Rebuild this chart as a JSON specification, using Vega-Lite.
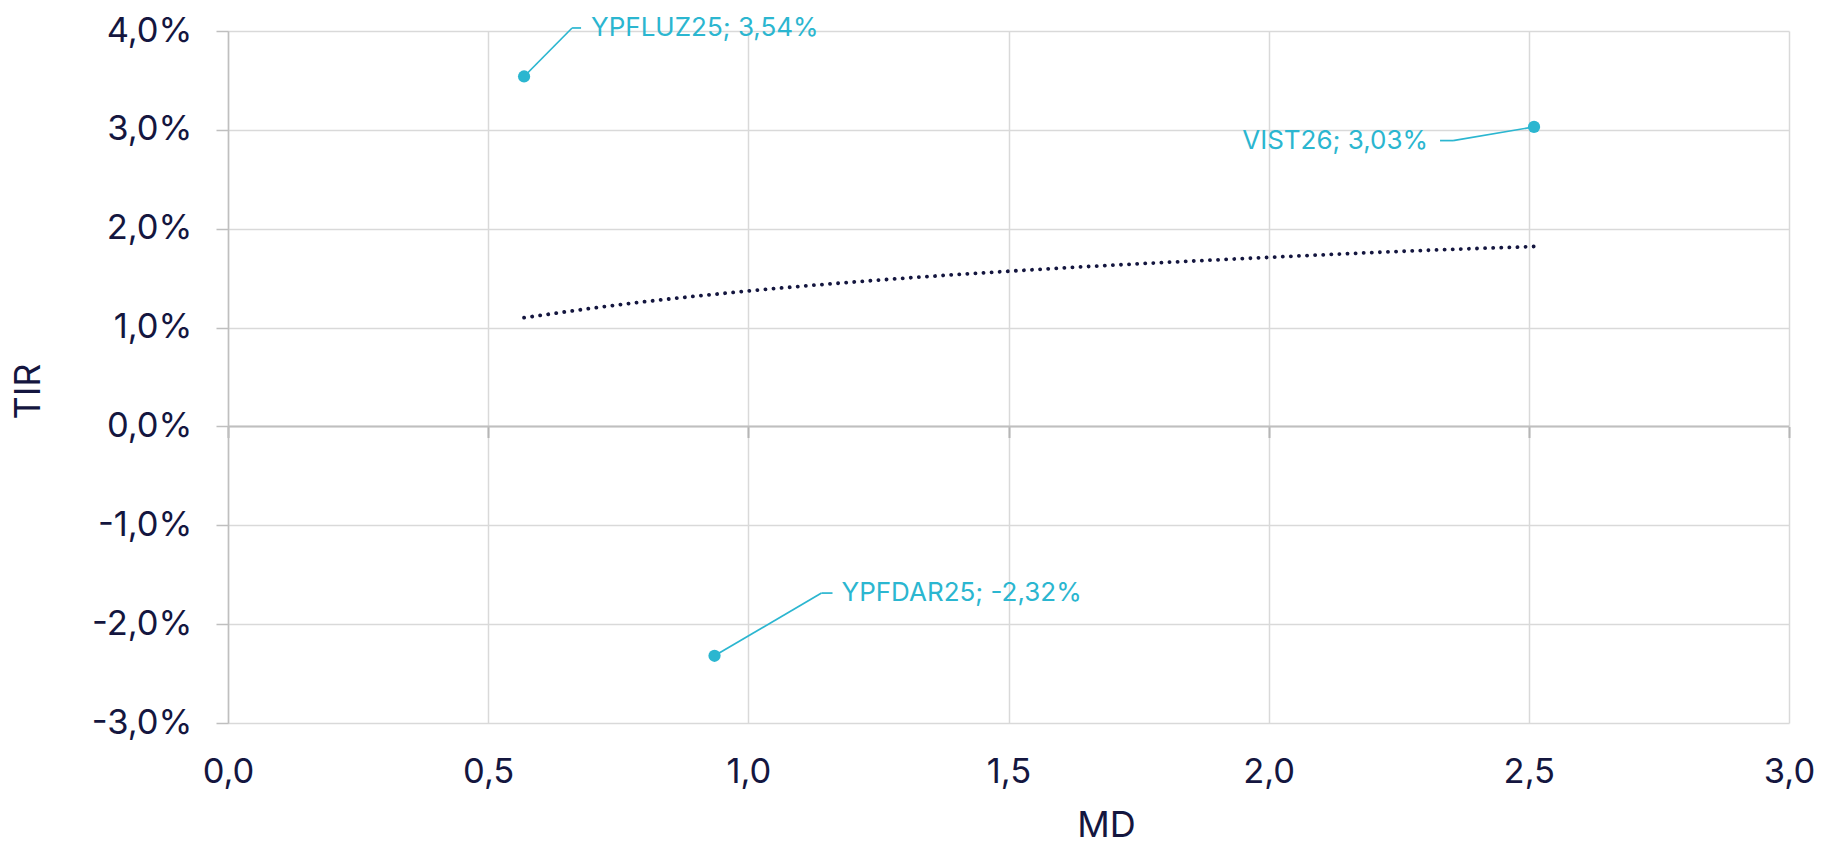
{
  "$schema": "https://vega.github.io/schema/vega-lite/v6.json",
  "width": 1561,
  "height": 692,
  "autosize": {"type": "none"},
  "padding": {"left": 228, "top": 31, "right": 32, "bottom": 121},
  "background": "white",
  "config": {
    "view": {"stroke": null},
    "font": "Inter",
    "axis": {
      "labelFont": "Inter",
      "titleFont": "Inter",
      "labelColor": "#14163f",
      "titleColor": "#14163f",
      "labelFontSize": 34.5,
      "titleFontSize": 36,
      "titleFontWeight": "normal",
      "gridColor": "#d9d9d9",
      "gridWidth": 1.5,
      "domainColor": "#bfbfbf",
      "tickColor": "#bfbfbf",
      "labelFlush": false,
      "labelOverlap": false
    }
  },
  "datasets": {
    "bonos": [
      {"bono": "YPFLUZ25", "md": 0.569, "tir": 0.0354, "etiqueta": "YPFLUZ25; 3,54%"},
      {"bono": "YPFDAR25", "md": 0.935, "tir": -0.0232, "etiqueta": "YPFDAR25; -2,32%"},
      {"bono": "VIST26", "md": 2.51, "tir": 0.0303, "etiqueta": "VIST26; 3,03%"}
    ],
    "tendencia": [
      {"md": 0.569, "tir": 0.0110},
      {"md": 0.75, "tir": 0.0123},
      {"md": 1.0, "tir": 0.0137},
      {"md": 1.25, "tir": 0.0148},
      {"md": 1.5, "tir": 0.0157},
      {"md": 1.75, "tir": 0.01645},
      {"md": 2.0, "tir": 0.0171},
      {"md": 2.25, "tir": 0.0177},
      {"md": 2.51, "tir": 0.0182}
    ],
    "ejeCero": [{"tir": 0}]
  },
  "resolve": {"axis": {"x": "independent"}},
  "layer": [
    {
      "data": {"name": "tendencia"},
      "mark": {"type": "line", "opacity": 0},
      "encoding": {
        "x": {
          "field": "md", "type": "quantitative",
          "scale": {"domain": [0, 3], "nice": false, "zero": false},
          "axis": {
            "orient": "bottom",
            "title": "MD",
            "values": [0, 0.5, 1, 1.5, 2, 2.5, 3],
            "labelExpr": "replace(format(datum.value, '.1f'), '.', ',')",
            "labelFlush": false,
            "domain": false,
            "ticks": false,
            "grid": true,
            "labelPadding": 32,
            "labelBaseline": "top",
            "titleX": 878,
            "titleY": 113,
            "titleAlign": "center",
            "titleBaseline": "alphabetic"
          }
        },
        "y": {
          "field": "tir", "type": "quantitative",
          "scale": {"domain": [-0.03, 0.04], "nice": false, "zero": false},
          "axis": {
            "title": "TIR",
            "values": [-0.03, -0.02, -0.01, 0, 0.01, 0.02, 0.03, 0.04],
            "labelExpr": "replace(replace(format(datum.value, '.1%'), '.', ','), '\u2212', '-')",
            "labelFlush": false,
            "domain": true,
            "domainWidth": 1.5,
            "ticks": true,
            "tickSize": 12,
            "tickWidth": 1.5,
            "grid": true,
            "labelPadding": 24,
            "titleX": -200,
            "titleY": 360,
            "titleAngle": -90,
            "titleAlign": "center",
            "titleBaseline": "middle"
          }
        }
      }
    },
    {
      "data": {"name": "ejeCero"},
      "mark": {"type": "rule", "color": "#bfbfbf", "strokeWidth": 2},
      "encoding": {"y": {"field": "tir", "type": "quantitative"}}
    },
    {
      "data": {"name": "tendencia"},
      "mark": {"type": "line", "color": "#14163f", "strokeWidth": 3.8, "strokeCap": "round", "strokeDash": [0.1, 8], "interpolate": "monotone"},
      "encoding": {
        "x": {"field": "md", "type": "quantitative", "axis": null},
        "y": {"field": "tir", "type": "quantitative"}
      }
    },
    {
      "data": {"name": "bonos"},
      "transform": [{"filter": "datum.bono === 'YPFLUZ25'"}],
      "layer": [
        {
          "mark": {"type": "rule", "color": "#2bb6d0", "strokeWidth": 1.7, "x2Offset": 48, "y2Offset": -48.5},
          "encoding": {
            "x": {"field": "md", "type": "quantitative", "axis": null},
            "y": {"field": "tir", "type": "quantitative"},
            "x2": {"field": "md"},
            "y2": {"field": "tir"}
          }
        },
        {
          "mark": {"type": "rule", "color": "#2bb6d0", "strokeWidth": 1.7, "xOffset": 48, "x2Offset": 57, "yOffset": -48.5},
          "encoding": {
            "x": {"field": "md", "type": "quantitative", "axis": null},
            "x2": {"field": "md"},
            "y": {"field": "tir", "type": "quantitative"}
          }
        },
        {
          "mark": {"type": "text", "color": "#2bb6d0", "fontSize": 26, "font": "Inter", "align": "left", "baseline": "middle", "dx": 67, "dy": -48.5},
          "encoding": {
            "x": {"field": "md", "type": "quantitative", "axis": null},
            "y": {"field": "tir", "type": "quantitative"},
            "text": {"field": "etiqueta"}
          }
        }
      ]
    },
    {
      "data": {"name": "bonos"},
      "transform": [{"filter": "datum.bono === 'YPFDAR25'"}],
      "layer": [
        {
          "mark": {"type": "rule", "color": "#2bb6d0", "strokeWidth": 1.7, "x2Offset": 107, "y2Offset": -62.7},
          "encoding": {
            "x": {"field": "md", "type": "quantitative", "axis": null},
            "y": {"field": "tir", "type": "quantitative"},
            "x2": {"field": "md"},
            "y2": {"field": "tir"}
          }
        },
        {
          "mark": {"type": "rule", "color": "#2bb6d0", "strokeWidth": 1.7, "xOffset": 107, "x2Offset": 118, "yOffset": -62.7},
          "encoding": {
            "x": {"field": "md", "type": "quantitative", "axis": null},
            "x2": {"field": "md"},
            "y": {"field": "tir", "type": "quantitative"}
          }
        },
        {
          "mark": {"type": "text", "color": "#2bb6d0", "fontSize": 26, "font": "Inter", "align": "left", "baseline": "middle", "dx": 127, "dy": -62.5},
          "encoding": {
            "x": {"field": "md", "type": "quantitative", "axis": null},
            "y": {"field": "tir", "type": "quantitative"},
            "text": {"field": "etiqueta"}
          }
        }
      ]
    },
    {
      "data": {"name": "bonos"},
      "transform": [{"filter": "datum.bono === 'VIST26'"}],
      "layer": [
        {
          "mark": {"type": "rule", "color": "#2bb6d0", "strokeWidth": 1.7, "x2Offset": -81, "y2Offset": 13.7},
          "encoding": {
            "x": {"field": "md", "type": "quantitative", "axis": null},
            "y": {"field": "tir", "type": "quantitative"},
            "x2": {"field": "md"},
            "y2": {"field": "tir"}
          }
        },
        {
          "mark": {"type": "rule", "color": "#2bb6d0", "strokeWidth": 1.7, "xOffset": -81, "x2Offset": -94, "yOffset": 13.7},
          "encoding": {
            "x": {"field": "md", "type": "quantitative", "axis": null},
            "x2": {"field": "md"},
            "y": {"field": "tir", "type": "quantitative"}
          }
        },
        {
          "mark": {"type": "text", "color": "#2bb6d0", "fontSize": 26, "font": "Inter", "align": "right", "baseline": "middle", "dx": -106, "dy": 13.7},
          "encoding": {
            "x": {"field": "md", "type": "quantitative", "axis": null},
            "y": {"field": "tir", "type": "quantitative"},
            "text": {"field": "etiqueta"}
          }
        }
      ]
    },
    {
      "data": {"name": "bonos"},
      "mark": {"type": "circle", "color": "#2bb6d0", "size": 150, "opacity": 1},
      "encoding": {
        "x": {
          "field": "md", "type": "quantitative",
          "axis": {
            "orient": "top",
            "title": null,
            "values": [0, 0.5, 1, 1.5, 2, 2.5, 3],
            "labels": false,
            "domain": false,
            "grid": false,
            "ticks": true,
            "tickSize": 11,
            "tickWidth": 2,
            "tickColor": "#b5b5b5",
            "offset": -406.5
          }
        },
        "y": {"field": "tir", "type": "quantitative"}
      }
    }
  ]
}
